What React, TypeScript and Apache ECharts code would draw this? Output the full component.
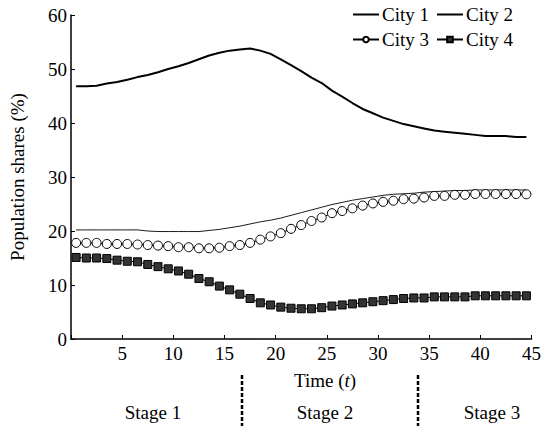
import React, { useEffect, useRef } from "react";
import * as echarts from "echarts";

const T = [0.5,1.5,2.5,3.5,4.5,5.5,6.5,7.5,8.5,9.5,10.5,11.5,12.5,13.5,14.5,15.5,16.5,17.5,18.5,19.5,20.5,21.5,22.5,23.5,24.5,25.5,26.5,27.5,28.5,29.5,30.5,31.5,32.5,33.5,34.5,35.5,36.5,37.5,38.5,39.5,40.5,41.5,42.5,43.5,44.5];

const CITY1 = [46.8,46.8,46.9,47.3,47.6,48.0,48.5,48.9,49.4,50.0,50.5,51.1,51.8,52.5,53.0,53.4,53.6,53.8,53.4,52.8,51.8,50.7,49.6,48.4,47.4,46.0,44.9,43.7,42.6,41.8,41.0,40.4,39.8,39.4,39.0,38.6,38.4,38.2,38.0,37.8,37.6,37.6,37.6,37.4,37.4];
const CITY2 = [20.2,20.2,20.2,20.2,20.2,20.2,20.2,20.0,19.9,19.9,19.9,19.9,19.9,20.1,20.3,20.6,20.9,21.3,21.7,22.0,22.4,22.9,23.4,23.9,24.4,24.9,25.3,25.7,26.0,26.3,26.6,26.8,26.9,27.0,27.2,27.3,27.4,27.5,27.5,27.6,27.6,27.6,27.6,27.6,27.6];
const CITY3 = [17.8,17.8,17.8,17.6,17.6,17.6,17.5,17.4,17.3,17.2,17.0,17.0,16.8,16.8,16.9,17.2,17.4,17.8,18.4,19.0,19.6,20.4,21.1,21.85,22.5,23.3,23.7,24.2,24.7,25.1,25.4,25.6,25.9,26.0,26.2,26.5,26.5,26.7,26.7,26.85,26.85,26.85,26.85,26.85,26.8];
const CITY4 = [15.1,15.0,15.0,14.9,14.6,14.4,14.3,13.8,13.4,13.0,12.6,12.0,11.2,10.6,9.8,9.1,8.3,7.5,6.7,6.3,5.9,5.7,5.6,5.6,5.8,6.1,6.3,6.5,6.7,6.9,7.1,7.3,7.5,7.6,7.6,7.8,7.8,7.8,7.8,8.0,8.0,8.0,8.0,8.0,8.0];

const SERIES_NAMES = ["City 1", "City 2", "City 3", "City 4"];
const STAGE_BOUNDS = [16.7, 33.9];
const STAGE_LABELS = ["Stage 1", "Stage 2", "Stage 3"];

const FONT = "'Liberation Serif', 'Times New Roman', serif";

const pairs = (ys: number[]) => T.map((t, i) => [t, ys[i]]);

export default function App() {
  const ref = useRef<HTMLDivElement>(null);
  useEffect(() => {
    if (!ref.current) return;
    const chart = echarts.init(ref.current, null, { renderer: "svg" });
    const textStyle = { fontFamily: FONT, fontSize: 19, color: "#000" };
    const legendBase = {
      left: 352,
      padding: 0,
      itemWidth: 26,
      itemHeight: 7,
      itemGap: 7,
      textStyle: { ...textStyle, padding: [0, 0, 0, -2] },
    };
    chart.setOption({
      animation: false,
      textStyle: { fontFamily: FONT },
      grid: { left: 66, right: 9, top: 15, bottom: 89, containLabel: false },
      legend: [
        {
          ...legendBase,
          top: 5,
          data: [
            { name: SERIES_NAMES[0], itemStyle: { opacity: 0 } },
            { name: SERIES_NAMES[1], itemStyle: { opacity: 0 } },
          ],
        },
        {
          ...legendBase,
          top: 30,
          data: [SERIES_NAMES[2], SERIES_NAMES[3]],
        },
      ],
      xAxis: {
        type: "value",
        min: 0,
        max: 45,
        interval: 5,
        axisLine: { show: true, lineStyle: { color: "#000", width: 1.5 } },
        axisTick: { show: true, inside: true, length: 4, lineStyle: { color: "#000" } },
        axisLabel: {
          ...textStyle,
          margin: 5,
          formatter: (v: number) => (v === 0 ? "" : String(v)),
        },
        splitLine: { show: false },
      },
      yAxis: {
        type: "value",
        min: 0,
        max: 60,
        interval: 10,
        name: "Population shares (%)",
        nameLocation: "middle",
        nameGap: 44,
        nameTextStyle: textStyle,
        axisLine: { show: true, lineStyle: { color: "#000", width: 1.5 } },
        axisTick: { show: true, inside: true, length: 4, lineStyle: { color: "#000" } },
        axisLabel: { ...textStyle, margin: 4 },
        splitLine: { show: false },
      },
      series: [
        {
          name: SERIES_NAMES[0],
          type: "line",
          data: pairs(CITY1),
          symbol: "none",
          lineStyle: { color: "#000", width: 2 },
          itemStyle: { color: "#000" },
        },
        {
          name: SERIES_NAMES[1],
          type: "line",
          data: pairs(CITY2),
          symbol: "none",
          lineStyle: { color: "#000", width: 0.9 },
          itemStyle: { color: "#000" },
        },
        {
          name: SERIES_NAMES[2],
          type: "line",
          data: pairs(CITY3),
          symbol: "circle",
          symbolSize: 9,
          lineStyle: { color: "#000", width: 1 },
          itemStyle: { color: "#fff", borderColor: "#000", borderWidth: 1 },
        },
        {
          name: SERIES_NAMES[3],
          type: "line",
          data: pairs(CITY4),
          symbol: "rect",
          symbolSize: 8,
          lineStyle: { color: "#000", width: 1 },
          itemStyle: { color: "#333", borderColor: "#000", borderWidth: 1 },
        },
      ],
    });

    const px = (t: number) => Math.round(chart.convertToPixel({ xAxisIndex: 0 }, t) as number);
    const b1 = px(STAGE_BOUNDS[0]);
    const b2 = px(STAGE_BOUNDS[1]);
    const stageX = [153, 325, 492];
    const graphic: any[] = [];
    [b1, b2].forEach((x) => {
      graphic.push({
        type: "line",
        shape: { x1: x, y1: 375, x2: x, y2: 426 },
        style: { stroke: "#000", lineWidth: 2.5, lineDash: [4, 2] },
      });
    });
    STAGE_LABELS.forEach((s, i) => {
      graphic.push({
        type: "text",
        x: stageX[i],
        y: 412,
        style: {
          text: s,
          fontFamily: FONT,
          fontSize: 19,
          fill: "#000",
          align: "center",
          verticalAlign: "middle",
        },
      });
    });
    graphic.push({
      type: "text",
      x: 325,
      y: 380,
      style: {
        text: "{a|Time (}{b|t}{a|)}",
        align: "center",
        verticalAlign: "middle",
        rich: {
          a: { fontFamily: FONT, fontSize: 19, fill: "#000" },
          b: { fontFamily: FONT, fontSize: 19, fontStyle: "italic", fill: "#000" },
        },
      },
    });
    chart.setOption({ graphic });

    return () => chart.dispose();
  }, []);
  return (
    <div
      ref={ref}
      style={{ position: "absolute", left: 0, top: 0, width: 544, height: 428 }}
    />
  );
}
